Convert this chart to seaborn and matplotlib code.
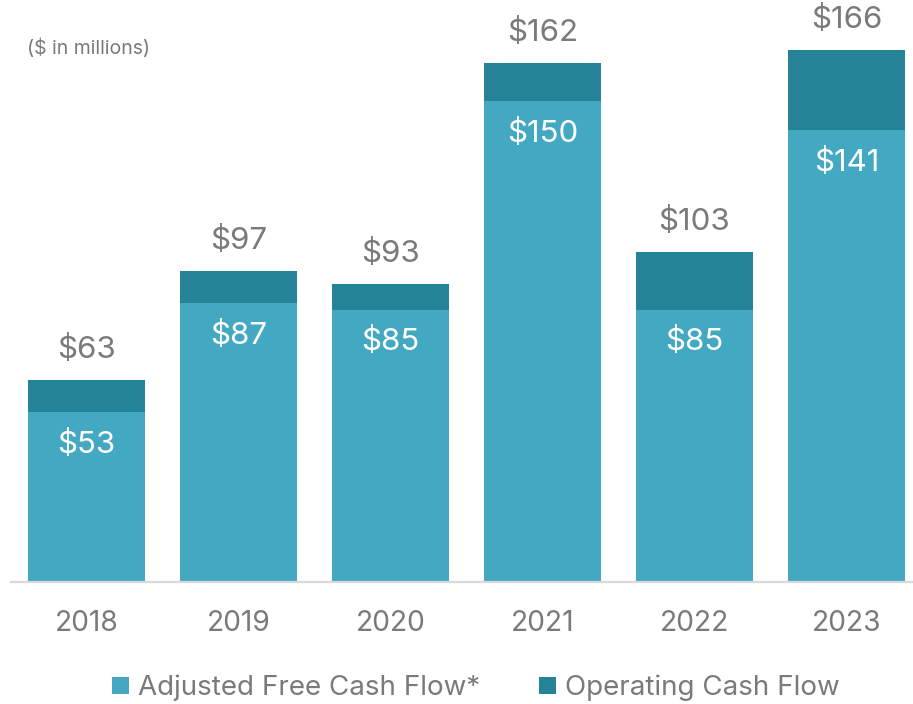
import matplotlib
matplotlib.use("Agg")
import matplotlib.pyplot as plt
from matplotlib.patches import Patch
import seaborn as sns
import pandas as pd

# Cash flow by year, $ in millions
years = ["2018", "2019", "2020", "2021", "2022", "2023"]
adjusted_fcf = [53, 87, 85, 150, 85, 141]
operating_cf = [63, 97, 93, 162, 103, 166]

series_names = ["Adjusted Free Cash Flow*", "Operating Cash Flow"]
light_teal = "#43A9C2"
dark_teal = "#258397"
text_gray = "#7A7A7C"

sns.set_theme(style="white")
plt.rcParams["font.family"] = ["Inter", "DejaVu Sans"]

df = pd.DataFrame({"year": years, "fcf": adjusted_fcf, "ocf": operating_cf})

fig = plt.figure(figsize=(9.13, 7.04), dpi=100)
ax = fig.add_axes([10.5 / 913, 122 / 704, 912 / 913, 576.7 / 704])

# Operating cash flow is the full bar height; adjusted FCF is drawn over its lower part
sns.barplot(data=df, x="year", y="ocf", color=dark_teal, width=0.77,
            saturation=1, ax=ax, linewidth=0)
sns.barplot(data=df, x="year", y="fcf", color=light_teal, width=0.77,
            saturation=1, ax=ax, linewidth=0)

ax.set_xlim(-0.5, 5.5)
ax.set_ylim(0, 180)
ax.set_xlabel("")
ax.set_ylabel("")
ax.set_yticks([])
for side in ["top", "right", "left"]:
    ax.spines[side].set_visible(False)
ax.spines["bottom"].set_color("#D9D9D9")
ax.spines["bottom"].set_linewidth(1.6)
ax.tick_params(axis="x", length=0, pad=20, labelsize=20.3, labelcolor=text_gray)

for i, (f, o) in enumerate(zip(adjusted_fcf, operating_cf)):
    ax.annotate(f"${o}", (i, o), xytext=(0, 22), textcoords="offset points",
                ha="center", va="center", fontsize=22.5, color=text_gray)
    ax.annotate(f"${f}", (i, f), xytext=(0, -23), textcoords="offset points",
                ha="center", va="center", fontsize=22.5, color="white")

fig.text(27 / 913, 1 - 48 / 704, "($ in millions)", ha="left", va="center",
         fontsize=14, color=text_gray)

handles = [Patch(facecolor=light_teal, edgecolor="none"),
           Patch(facecolor=dark_teal, edgecolor="none")]
fig.legend(handles, series_names, loc="center", bbox_to_anchor=(476 / 913, 16 / 704),
           ncol=2, frameon=False, fontsize=20, labelcolor=text_gray,
           handlelength=0.6, handleheight=0.6, handletextpad=0.35,
           columnspacing=2.1)

fig.savefig("out.png", dpi=100)
